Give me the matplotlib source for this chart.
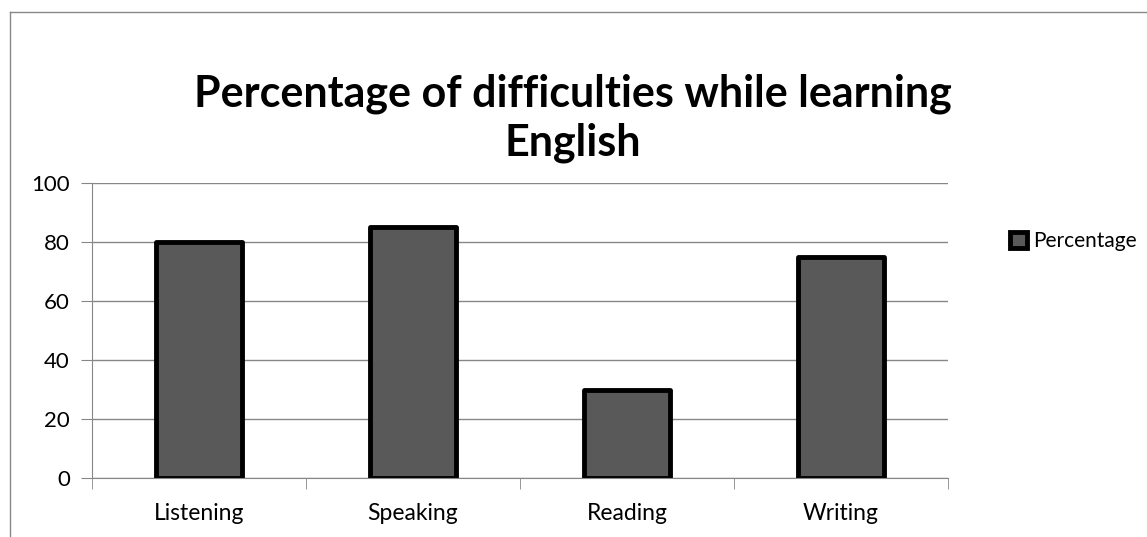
import numpy as np
import matplotlib.pyplot as plt
from matplotlib.patches import Patch
from matplotlib.lines import Line2D

categories = ["Listening", "Speaking", "Reading", "Writing"]
percentage = [80, 85, 30, 75]
yticks = [0, 20, 40, 60, 80, 100]

plt.rcParams['font.family'] = ['Lato', 'DejaVu Sans']

W, H = 1147, 537
fig = plt.figure(figsize=(W / 100, H / 100), dpi=100)

# outer chart frame (only top and left visible)
fig.add_artist(Line2D([10 / W, 10 / W], [0, 1 - 12 / H], color='#888888', lw=1))
fig.add_artist(Line2D([10 / W, 1], [1 - 12 / H, 1 - 12 / H], color='#888888', lw=1))

ax = fig.add_axes([92 / W, 1 - 478 / H, (948 - 92) / W, (478 - 183) / H])

x = np.arange(len(categories))
ax.bar(x, percentage, width=0.4, color='#595959', edgecolor='black', linewidth=3.5, zorder=3,
       joinstyle='round', label='Percentage')

ax.set_xlim(-0.5, len(categories) - 0.5)
ax.set_ylim(0, 100)
ax.set_yticks(yticks)
ax.yaxis.grid(True, color='#878787', lw=1, zorder=0)

ax.set_xticks(x)
ax.set_xticklabels(categories, fontsize=16.5)
ax.set_xticks(np.arange(-0.5, len(categories)), minor=True)
ax.tick_params(axis='x', which='major', length=0, pad=18)
ax.tick_params(axis='x', which='minor', length=8, color='#878787', direction='out')
ax.tick_params(axis='y', length=8, color='#878787', labelsize=16, pad=8)

for s in ['top', 'right']:
    ax.spines[s].set_visible(False)
for s in ['left', 'bottom']:
    ax.spines[s].set_color('#878787')
    ax.spines[s].set_zorder(4)

fig.text(573 / W, 1 - 118 / H, "Percentage of difficulties while learning\nEnglish",
         ha='center', va='center', fontsize=31, fontweight='bold', linespacing=1.25)

handle = Patch(facecolor='#595959', edgecolor='black', linewidth=3.5)
fig.legend(handles=[handle], labels=['Percentage'], loc='center left',
           bbox_to_anchor=(1000 / W, 1 - 241 / H), frameon=False, fontsize=15,
           handlelength=0.8, handleheight=0.8, handletextpad=0.3, borderpad=0)

fig.savefig('out.png', dpi=100)
